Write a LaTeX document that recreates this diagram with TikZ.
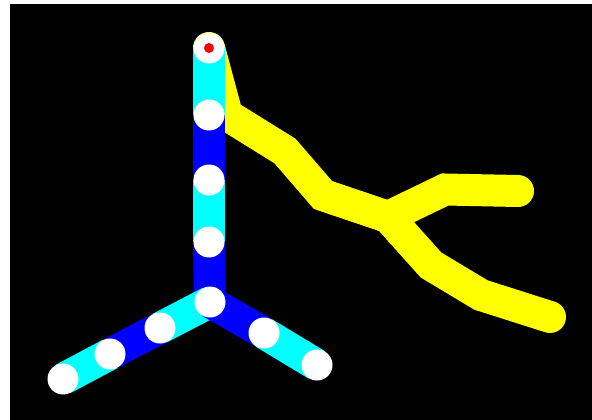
\documentclass[tikz,border=0pt]{standalone}
\usetikzlibrary{backgrounds}
\definecolor{aqua}{HTML}{00FFFF}
\definecolor{deepblue}{HTML}{0000FF}
\definecolor{lemon}{HTML}{FFFF00}
\definecolor{dotred}{HTML}{FF0000}

\begin{document}
\begin{tikzpicture}[
  x=1pt,y=-1pt,
  joint/.style={circle,fill=white,draw=none,minimum size=31pt,inner sep=0pt},
  bar/.style={line width=32pt,line cap=butt},
  branch/.style={draw=lemon,line width=32pt,line join=miter,line cap=round}
]
\useasboundingbox (0,0) rectangle (592,420);
% --- joints of the stick -------------------------------------------------
\node[joint] (top) at (209,48) {};
\node[joint] (v1) at (209,115) {};
\node[joint] (v2) at (209,180) {};
\node[joint] (v3) at (209,242) {};
\node[joint] (hub) at (210,302) {};
\node[joint] (l1) at (160,328) {};
\node[joint] (l2) at (110,354) {};
\node[joint] (l3) at (63,379) {};
\node[joint] (r1) at (264,333) {};
\node[joint] (r2) at (317,365) {};
\node[circle,fill=dotred,minimum size=10pt,inner sep=0pt] (eye) at (top.center) {};
% --- bends of the yellow branch --------------------------------------------
\coordinate (y1) at (227,115);
\coordinate (y2) at (285,151);
\coordinate (y3) at (323,195);
\coordinate (fork) at (388,217);
\coordinate (u1) at (445,189.5);
\coordinate (u2) at (518,191);
\coordinate (d1) at (431,265);
\coordinate (d2) at (481,295);
\coordinate (d3) at (550,317);
\begin{scope}[on background layer]
\fill[white] (0,0) rectangle (592,420);
\fill[black] (10,4) rectangle (592,420);
\draw[branch] (top.center) -- (y1) -- (y2) -- (y3) -- (fork) -- (u1) -- (u2);
\draw[branch] (y3) -- (fork) -- (d1) -- (d2) -- (d3);
\foreach \a/\b/\c in {top/v1/aqua,v1/v2/deepblue,v2/v3/aqua,v3/hub/deepblue,
    hub/l1/aqua,l1/l2/deepblue,l2/l3/aqua,hub/r1/deepblue,r1/r2/aqua}
  {\draw[bar,draw=\c] (\a.center) -- (\b.center);}
\end{scope}
\end{tikzpicture}
\end{document}
